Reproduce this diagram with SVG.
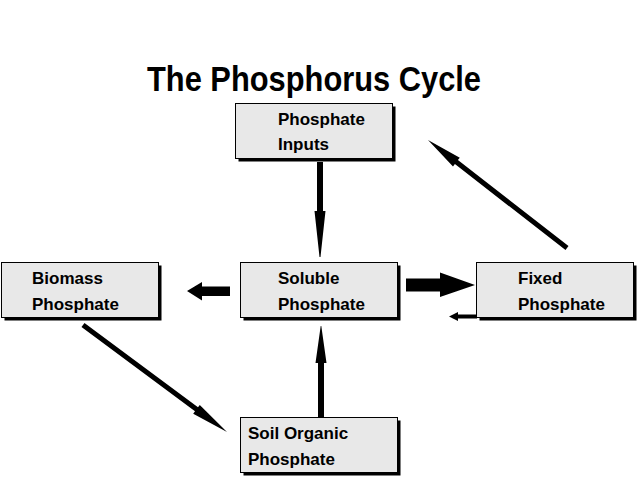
<svg xmlns="http://www.w3.org/2000/svg" width="640" height="480" viewBox="0 0 640 480">
<style>
.shadow{fill:#000}
.box{fill:#e8e8e8;stroke:#000;stroke-width:1}
.lbl{font-family:"Liberation Sans",Arial,sans-serif;font-weight:bold;font-size:17px;fill:#000}
.title{font-family:"Liberation Sans",Arial,sans-serif;font-weight:bold;font-size:35px;fill:#000}
.arrow{fill:#000;stroke:none}
</style>
<rect width="640" height="480" fill="#fff"/>
<text class="title" x="147" y="91" textLength="334" lengthAdjust="spacingAndGlyphs">The Phosphorus Cycle</text>
<g id="inputs">
<rect class="shadow" x="238.5" y="106.5" width="157" height="55"/>
<rect class="box" x="235.5" y="103.5" width="157" height="55"/>
<text class="lbl" x="278" y="125">Phosphate</text>
<text class="lbl" x="278" y="150">Inputs</text>
</g>
<g id="biomass">
<rect class="shadow" x="4.5" y="265.5" width="157" height="55"/>
<rect class="box" x="1.5" y="262.5" width="157" height="55"/>
<text class="lbl" x="32" y="284">Biomass</text>
<text class="lbl" x="32" y="310">Phosphate</text>
</g>
<g id="soluble">
<rect class="shadow" x="243.5" y="265.5" width="157" height="55"/>
<rect class="box" x="240.5" y="262.5" width="157" height="55"/>
<text class="lbl" x="278" y="284">Soluble</text>
<text class="lbl" x="278" y="310">Phosphate</text>
</g>
<g id="fixed">
<rect class="shadow" x="479.5" y="265.5" width="157" height="55"/>
<rect class="box" x="476.5" y="262.5" width="157" height="55"/>
<text class="lbl" x="518" y="284">Fixed</text>
<text class="lbl" x="518" y="310">Phosphate</text>
</g>
<g id="soil">
<rect class="shadow" x="243.5" y="420.5" width="157" height="55"/>
<rect class="box" x="240.5" y="417.5" width="157" height="55"/>
<text class="lbl" x="248" y="439">Soil Organic</text>
<text class="lbl" x="248" y="465">Phosphate</text>
</g>
<g id="connectors">
<polygon class="arrow" points="317,162 323,162 323,211 325.5,211 320.5,257 319.5,257 314.5,211 317,211"/>
<polygon class="arrow" points="318,418 324,418 324,363 326.5,363 321.3,326 320.7,326 315.5,363 318,363"/>
<polygon class="arrow" points="230,286.5 202,286.5 202,282 187,291 202,300.5 202,296 230,296"/>
<polygon class="arrow" points="406,278.5 440,278.5 440,272.5 475,285 440,297 440,291.5 406,291.5"/>
<polygon class="arrow" points="477,314.5 458,314.5 458,312 449,316.5 458,321 458,318.5 477,318.5"/>
<polygon class="arrow" points="568.5,246 457.9,160.1 459.8,157.8 428,140 453,166.4 454.9,164.1 565.5,250"/>
<polygon class="arrow" points="81.5,327 195,411.3 193.2,413.7 227,432 199.8,404.9 198,407.3 84.5,323"/>
</g>
</svg>
